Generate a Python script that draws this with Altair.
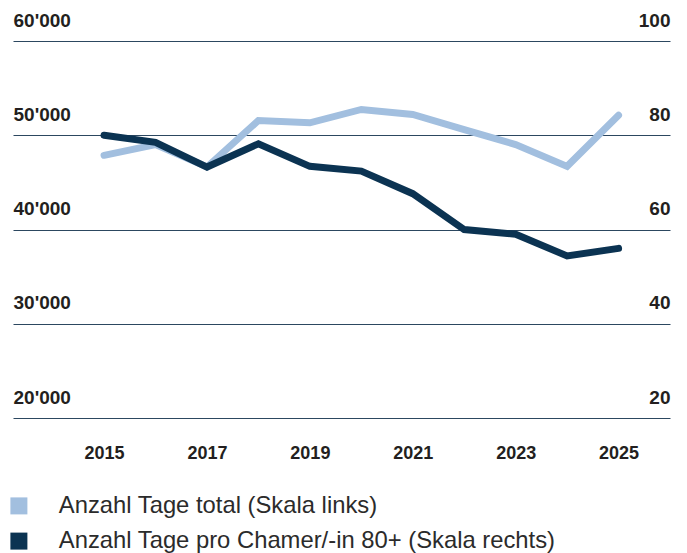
import altair as alt
import pandas as pd

years = [2015, 2016, 2017, 2018, 2019, 2020, 2021, 2022, 2023, 2024, 2025]
total_days = [47870, 49010, 46630, 51570, 51320, 52740, 52210, 50600, 49010, 46700, 52130]
days_per_80 = [80.0, 78.5, 73.25, 78.2, 73.4, 72.4, 67.6, 60.0, 59.0, 54.4, 56.0]

series_names = ["Anzahl Tage total (Skala links)", "Anzahl Tage pro Chamer/-in 80+ (Skala rechts)"]
series_colors = ["#a2bfdf", "#0b3352"]

left_ticks = [20000, 30000, 40000, 50000, 60000]
right_ticks = [20, 40, 60, 80, 100]
x_ticks = [2015, 2017, 2019, 2021, 2023, 2025]

df_total = pd.DataFrame({"Jahr": years, "Wert": total_days, "Serie": series_names[0]})
df_80 = pd.DataFrame({"Jahr": years, "Wert": days_per_80, "Serie": series_names[1]})

FONT = "Liberation Sans"
GRID = "#2c4760"
LABEL = "#231f20"

x_enc = alt.X(
    "Jahr:Q",
    scale=alt.Scale(domain=[2013.23, 2026.0], nice=False, zero=False),
    axis=alt.Axis(values=x_ticks, format="d", title=None, grid=False, domain=False,
                  ticks=False, tickSize=0, labelPadding=26, labelFont=FONT,
                  labelFontWeight="bold", labelFontSize=18, labelColor=LABEL,
                  labelFlush=False, labelOverlap=False),
)

color_legend = alt.Color(
    "Serie:N",
    scale=alt.Scale(domain=series_names, range=series_colors),
    sort=series_names,
    legend=alt.Legend(
        orient="none", legendX=-6, legendY=453, direction="vertical", title=None,
        padding=0, symbolType="square", symbolSize=289, symbolStrokeWidth=0,
        symbolOpacity=1,
        labelFont=FONT, labelFontSize=23.8, labelColor="#2b2b2b", labelOffset=28,
        rowPadding=10.2, labelLimit=0,
    ),
)

left_scale = alt.Scale(domain=[20000, 60000], nice=False, zero=False)

dark = alt.Chart(df_80).mark_line(strokeWidth=7, strokeCap="round", color=series_colors[1]).encode(
    x=x_enc,
    y=alt.Y("Wert:Q", scale=alt.Scale(domain=[20, 100], nice=False, zero=False),
            axis=alt.Axis(orient="right", values=right_ticks, title=None, grid=False,
                          domain=False, ticks=False, tickSize=0, labelPadding=0,
                          labelAlign="right", labelBaseline="alphabetic", labelOffset=-15,
                          labelFont=FONT, labelFontWeight="bold", labelFontSize=19,
                          labelColor=LABEL, labelOverlap=False, labelBound=False)),
)

light = alt.Chart(df_total).mark_line(strokeWidth=7, strokeCap="round", color=series_colors[0]).encode(
    x=x_enc,
    y=alt.Y("Wert:Q", scale=left_scale,
            axis=alt.Axis(orient="left", values=left_ticks, title=None, grid=True,
                          gridColor=GRID, gridWidth=1, gridOpacity=1,
                          domain=False, ticks=False, tickSize=0, labelPadding=0,
                          labelAlign="left", labelBaseline="alphabetic", labelOffset=-15,
                          labelExpr="replace(format(datum.value, ','), ',', \"'\")",
                          labelFont=FONT, labelFontWeight="bold", labelFontSize=19,
                          labelColor=LABEL, labelOverlap=False, labelBound=False)),
)

# invisible squares that only carry the filled-square legend
legend_carrier = alt.Chart(df_total).mark_square(opacity=0, size=1).encode(
    x=x_enc,
    y=alt.Y("Wert:Q", scale=left_scale, axis=None),
    color=color_legend,
)

chart = alt.layer(light, dark, legend_carrier).resolve_scale(y="independent").properties(
    width=657, height=377,
    autosize=alt.AutoSizeParams(type="none"),
    padding={"left": 5, "top": 33, "right": 9, "bottom": 137},
).configure_view(stroke=None)

chart.save("out.html", embed_options={"renderer": "svg", "actions": False})
